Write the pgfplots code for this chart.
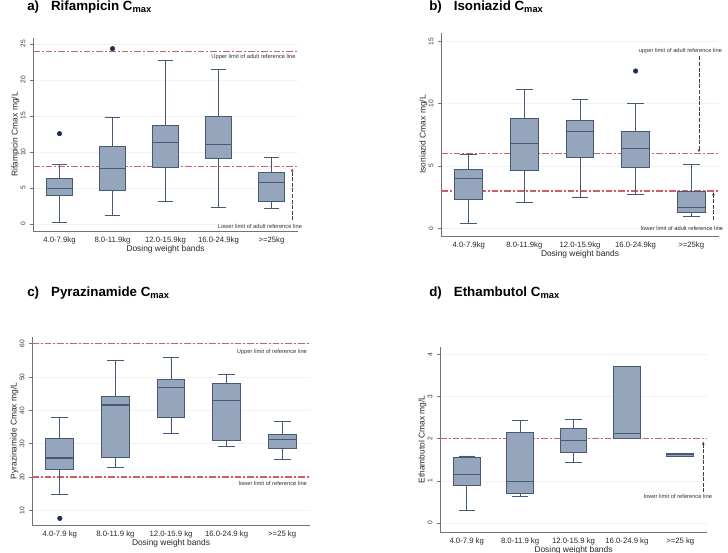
\documentclass[border=0pt]{standalone}
\usepackage{fontspec}
\setmainfont{Liberation Sans}
\usepackage{pgfplots}
\pgfplotsset{compat=1.18}
\usepgfplotslibrary{statistics}
\usetikzlibrary{arrows.meta}
\definecolor{boxfill}{RGB}{148,165,188}
\definecolor{boxedge}{RGB}{70,90,120}
\definecolor{refred}{RGB}{205,95,105}
\definecolor{outl}{RGB}{28,46,92}
\definecolor{axgray}{RGB}{115,115,115}
\pgfplotsset{
 panel/.style={scale only axis, anchor=south west, xmin=0.5, xmax=5.5,
  axis x line*=bottom, axis y line*=left, xtick={1,2,3,4,5},
  major x tick style={draw=none}, ymajorgrids, grid style={draw=gray!10, line width=0.4pt},
  axis line style={draw=axgray, line width=0.6pt}, major y tick style={draw=axgray, line width=0.5pt},
  tick align=outside, major tick length=2.2pt,
  yticklabel style={rotate=90, anchor=south, font=\fontsize{5}{6}\selectfont, text=black!80},
  xticklabel style={font=\fontsize{5.8}{7}\selectfont, text=black!85, yshift=1.5pt},
  label style={font=\fontsize{6.3}{7.5}\selectfont, text=black!85},
  xlabel style={yshift=6pt}, ylabel style={yshift=-6pt},
  /pgf/number format/assume math mode=true, clip=false,
  boxplot/draw direction=y,
  boxplot/box extend=0.5, boxplot/whisker extend=0.3,
  boxplot/every median/.style={draw=boxedge, line width=0.8pt}},
 bx/.style={draw=boxedge, fill=boxfill, line width=0.7pt, solid, mark=none},
 outp/.style={only marks, mark=*, mark size=1.7pt, color=outl, fill=outl, draw=outl},
 refline/.style={draw=refred, color=refred, line width=1pt, dash pattern=on 5pt off 1.5pt on 1.5pt off 1.5pt, mark=none, forget plot},
}
\tikzset{
 annot/.style={font=\fontsize{4.3}{5}\selectfont, text=black!80, anchor=east, inner sep=0pt},
 arr/.style={draw=black!75, line width=0.5pt, dash pattern=on 3pt off 1.2pt, -{Stealth[length=2.5pt,width=2pt]}},
}
\newcommand{\ttl}[2]{\fontsize{10}{12}\selectfont\bfseries #1\hspace{9pt}#2 C\raisebox{-1.3pt}{\fontsize{7}{8}\selectfont max}}
\begin{document}
\begin{tikzpicture}
\useasboundingbox (0,0) rectangle (546pt,-414.75pt);
\node[anchor=west, inner sep=0pt] at (20.25pt,-5.6pt) {\ttl{a)}{Rifampicin}};
\node[anchor=west, inner sep=0pt] at (321.75pt,-5.6pt) {\ttl{b)}{Isoniazid}};
\node[anchor=west, inner sep=0pt] at (20.25pt,-220pt) {\ttl{c)}{Pyrazinamide}};
\node[anchor=west, inner sep=0pt] at (321.75pt,-220pt) {\ttl{d)}{Ethambutol}};

% Panel a
\begin{axis}[panel, at={(24.75pt,-173.25pt)}, width=198.75pt, height=144.75pt,
  ymin=-0.97, ymax=25.83, ytick={0,5,...,25},
  xticklabels={4.0-7.9kg,8.0-11.9kg,12.0-15.9kg,16.0-24.9kg,>=25kg},
  xlabel={Dosing weight bands}, ylabel={Rifampicin Cmax mg/L}]
\addplot[refline] coordinates {(0.5,24) (5.5,24)};
\addplot[refline] coordinates {(0.5,8) (5.5,8)};
\addplot[bx, boxplot prepared={draw position=1, lower whisker=0.19, lower quartile=3.9, median=4.93, upper quartile=6.27, upper whisker=8.27}] coordinates {};
\addplot[bx, boxplot prepared={draw position=2, lower whisker=1.2, lower quartile=4.65, median=7.71, upper quartile=10.73, upper whisker=14.78}] coordinates {};
\addplot[bx, boxplot prepared={draw position=3, lower whisker=3.11, lower quartile=7.9, median=11.34, upper quartile=13.75, upper whisker=22.77}] coordinates {};
\addplot[bx, boxplot prepared={draw position=4, lower whisker=2.28, lower quartile=9.15, median=11.1, upper quartile=14.92, upper whisker=21.47}] coordinates {};
\addplot[bx, boxplot prepared={draw position=5, lower whisker=2.14, lower quartile=3.11, median=5.76, upper quartile=7.16, upper whisker=9.2}] coordinates {};
\addplot[outp] coordinates {(1,12.55) (2,24.35)};
\node[annot] at (axis cs:5.46,23.2) {Upper limit of adult reference line};
\node[annot] at (axis cs:5.58,-0.28) {Lower limit of adult reference line};
\draw[arr] (axis cs:5.39,0.5) -- (axis cs:5.39,7.7);
\end{axis}

% Panel b
\begin{axis}[panel, at={(330.75pt,-177pt)}, width=208.5pt, height=152.25pt,
  ymin=-0.62, ymax=15.67, ytick={0,5,10,15},
  xticklabels={4.0-7.9kg,8.0-11.9kg,12.0-15.9kg,16.0-24.9kg,>=25kg},
  xlabel={Dosing weight bands}, ylabel={Isoniazid Cmax mg/L}]
\addplot[refline] coordinates {(0.5,6) (5.5,6)};
\addplot[refline] coordinates {(0.5,3) (5.5,3)};
\addplot[bx, boxplot prepared={draw position=1, lower whisker=0.4, lower quartile=2.33, median=4.01, upper quartile=4.71, upper whisker=5.94}] coordinates {};
\addplot[bx, boxplot prepared={draw position=2, lower whisker=2.06, lower quartile=4.6, median=6.82, upper quartile=8.82, upper whisker=11.1}] coordinates {};
\addplot[bx, boxplot prepared={draw position=3, lower whisker=2.51, lower quartile=5.67, median=7.78, upper quartile=8.66, upper whisker=10.32}] coordinates {};
\addplot[bx, boxplot prepared={draw position=4, lower whisker=2.73, lower quartile=4.89, median=6.39, upper quartile=7.75, upper whisker=10.0}] coordinates {};
\addplot[bx, boxplot prepared={draw position=5, lower whisker=0.96, lower quartile=1.28, median=1.66, upper quartile=2.94, upper whisker=5.13}] coordinates {};
\addplot[outp] coordinates {(4,12.62)};
\node[annot] at (axis cs:5.56,14.2) {upper limit of adult reference line};
\node[annot] at (axis cs:5.58,0.0) {lower limit of adult reference line};
\draw[arr] (axis cs:5.14,13.8) -- (axis cs:5.14,6.1);
\draw[arr] (axis cs:5.4,0.67) -- (axis cs:5.4,2.9);
\end{axis}

% Panel c
\begin{axis}[panel, at={(24pt,-393.75pt)}, width=208.5pt, height=141pt,
  ymin=5.6, ymax=62.0, ytick={10,20,...,60},
  xticklabels={4.0-7.9 kg,8.0-11.9 kg,12.0-15.9 kg,16.0-24.9 kg,>=25 kg},
  xlabel={Dosing weight bands}, ylabel={Pyrazinamide Cmax mg/L}]
\addplot[refline] coordinates {(0.5,60) (5.5,60)};
\addplot[refline] coordinates {(0.5,20) (5.5,20)};
\addplot[bx, boxplot prepared={draw position=1, lower whisker=14.8, lower quartile=22.3, median=25.7, upper quartile=31.6, upper whisker=38.0}] coordinates {};
\addplot[bx, boxplot prepared={draw position=2, lower whisker=22.9, lower quartile=25.8, median=41.6, upper quartile=44.1, upper whisker=55.0}] coordinates {};
\addplot[bx, boxplot prepared={draw position=3, lower whisker=33.0, lower quartile=37.9, median=46.9, upper quartile=49.3, upper whisker=55.9}] coordinates {};
\addplot[bx, boxplot prepared={draw position=4, lower whisker=29.2, lower quartile=31.0, median=43.0, upper quartile=48.1, upper whisker=50.8}] coordinates {};
\addplot[bx, boxplot prepared={draw position=5, lower whisker=25.2, lower quartile=28.6, median=31.3, upper quartile=32.7, upper whisker=36.7}] coordinates {};
\addplot[outp] coordinates {(1,7.6)};
\node[annot] at (axis cs:5.45,57.4) {Upper limit of reference line};
\node[annot] at (axis cs:5.45,18.0) {lower limit of reference line};
\end{axis}

% Panel d
\begin{axis}[panel, at={(330pt,-399pt)}, width=200.25pt, height=138.75pt,
  ymin=-0.21, ymax=4.17, ytick={0,1,2,3,4},
  xticklabels={4.0-7.9 kg,8.0-11.9 kg,12.0-15.9 kg,16.0-24.9 kg,>=25 kg},
  xlabel={Dosing weight bands}, ylabel={Ethambutol Cmax mg/L}]
\addplot[refline] coordinates {(0.5,2) (5.5,2)};
\addplot[bx, boxplot prepared={draw position=1, lower whisker=0.31, lower quartile=0.89, median=1.16, upper quartile=1.56, upper whisker=1.59}] coordinates {};
\addplot[bx, boxplot prepared={draw position=2, lower whisker=0.62, lower quartile=0.71, median=0.99, upper quartile=2.14, upper whisker=2.43}] coordinates {};
\addplot[bx, boxplot prepared={draw position=3, lower whisker=1.44, lower quartile=1.67, median=1.95, upper quartile=2.23, upper whisker=2.45}] coordinates {};
\addplot[bx, boxplot prepared={draw position=4, lower whisker=2.0, lower quartile=2.0, median=2.12, upper quartile=3.72, upper whisker=3.72}] coordinates {};
\addplot[bx, boxplot prepared={draw position=5, lower whisker=1.57, lower quartile=1.57, median=1.62, upper quartile=1.66, upper whisker=1.66}] coordinates {};
\node[annot] at (axis cs:5.6,0.63) {lower limit of reference line};
\draw[arr] (axis cs:5.43,0.73) -- (axis cs:5.43,1.93);
\end{axis}
\end{tikzpicture}
\end{document}
